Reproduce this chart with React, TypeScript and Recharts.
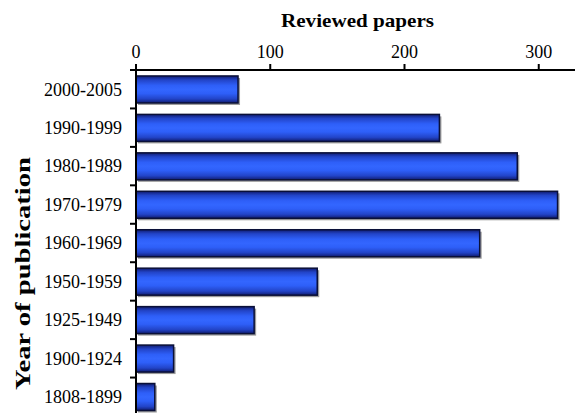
import React from 'react';
import { BarChart, Bar, XAxis, YAxis } from 'recharts';

const periods = [
  '2000-2005',
  '1990-1999',
  '1980-1989',
  '1970-1979',
  '1960-1969',
  '1950-1959',
  '1925-1949',
  '1900-1924',
  '1808-1899',
];
const papers = [76, 226, 284, 314, 256, 135, 88, 28, 14];
const xTicks = [0, 100, 200, 300];

const data = periods.map((period, i) => ({ period, papers: papers[i] }));

const FONT = '"Liberation Serif", "Times New Roman", serif';

// bar with drop shadow + vertical blue gradient
const ShadedBar = (props: any) => {
  const { x, y, width, height } = props;
  if (!width || width <= 0) return null;
  return (
    <g>
      <rect x={x + 2} y={y + 2} width={width} height={height} fill="#9b9b9b" />
      <rect
        x={x}
        y={y}
        width={width}
        height={height}
        fill="url(#barGrad)"
        stroke="#0a1038"
        strokeWidth={1.5}
      />
    </g>
  );
};

// category label plus a tick mark at the top edge of each band
const PeriodTick = (props: any) => {
  const { y, payload } = props;
  const half = payload?.offset ?? 19;
  const top = y - half;
  return (
    <g>
      <line x1={130} x2={136} y1={top} y2={top} stroke="#000" strokeWidth={2} />
      <text
        x={122}
        y={y}
        dy="0.35em"
        textAnchor="end"
        fill="#000"
        fontSize={18}
        fontFamily={FONT}
      >
        {payload.value}
      </text>
    </g>
  );
};

export default function App() {
  return (
    <div
      style={{
        position: 'fixed',
        top: 0,
        left: 0,
        width: 575,
        height: 413,
        overflow: 'hidden',
        background: '#fff',
      }}
    >
      <BarChart
        layout="vertical"
        width={575}
        height={430}
        data={data}
        margin={{ top: 8, right: 0, left: 0, bottom: 14 }}
        barCategoryGap="15.5%"
      >
        <defs>
          <linearGradient id="barGrad" x1="0" y1="0" x2="0" y2="1">
            <stop offset="0%" stopColor="#101c70" />
            <stop offset="15%" stopColor="#2244c8" />
            <stop offset="35%" stopColor="#2e5ff8" />
            <stop offset="50%" stopColor="#3366ff" />
            <stop offset="65%" stopColor="#2e5ff8" />
            <stop offset="85%" stopColor="#2244c8" />
            <stop offset="100%" stopColor="#101c70" />
          </linearGradient>
        </defs>
        <XAxis
          type="number"
          orientation="top"
          height={62}
          domain={[0, 327]}
          ticks={xTicks}
          allowDataOverflow
          tickSize={6}
          tickMargin={6}
          axisLine={{ stroke: '#000', strokeWidth: 2 }}
          tickLine={{ stroke: '#000', strokeWidth: 2 }}
          tick={{ fill: '#000', fontSize: 18, fontFamily: FONT }}
        />
        <YAxis
          type="category"
          dataKey="period"
          width={136}
          tickLine={false}
          axisLine={{ stroke: '#000', strokeWidth: 2 }}
          tick={<PeriodTick />}
          interval={0}
        />
        <Bar dataKey="papers" shape={<ShadedBar />} isAnimationActive={false} />
      </BarChart>
      <svg
        width={575}
        height={413}
        style={{ position: 'absolute', top: 0, left: 0, pointerEvents: 'none' }}
      >
        <text
          x={357.5}
          y={27}
          textAnchor="middle"
          fontSize={19}
          fontWeight="bold"
          fontFamily={FONT}
          fill="#000"
          textLength={153}
          lengthAdjust="spacingAndGlyphs"
        >
          Reviewed papers
        </text>
        <text
          x={0}
          y={0}
          transform="translate(30 273.5) rotate(-90)"
          textAnchor="middle"
          fontSize={21}
          fontWeight="bold"
          fontFamily={FONT}
          fill="#000"
          textLength={233}
          lengthAdjust="spacingAndGlyphs"
        >
          Year of publication
        </text>
      </svg>
    </div>
  );
}
